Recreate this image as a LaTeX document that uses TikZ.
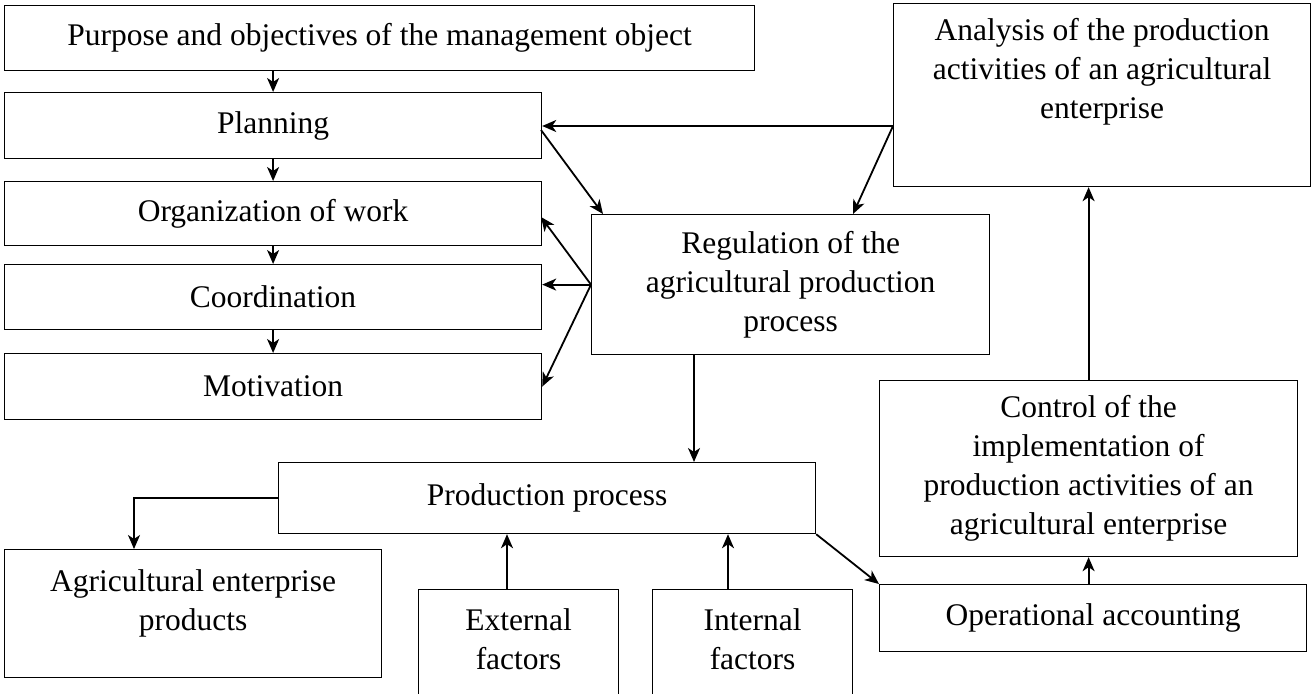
\documentclass[tikz,border=0pt]{standalone}
\usepackage{fontspec}
\setmainfont{Liberation Serif}
\usetikzlibrary{arrows.meta,calc}
\newcommand\bxfont{\fontsize{31.5}{39}\selectfont}
\newcommand\tstrut{\rule{0pt}{26pt}}
\tikzset{
  box/.style={draw, line width=1.2pt, rectangle, inner sep=0pt, anchor=north west, align=center, font=\bxfont},
  txt/.style={inner sep=0pt, anchor=north, align=center, font=\bxfont},
  arr/.style={line width=1.8pt, -{Stealth[length=14pt,width=12pt,inset=4pt]}},
}
\begin{document}
\begin{tikzpicture}[x=1pt,y=-1pt]
\useasboundingbox (0,0) rectangle (1311,693);
\clip (0,0) rectangle (1311,693);
% boxes
\node[box, minimum width=750pt, minimum height=65pt] (purpose) at (4,5) {Purpose and objectives of the management object};
\node[box, minimum width=537pt, minimum height=66pt] (planning) at (4,92) {Planning};
\node[box, minimum width=537pt, minimum height=64pt] (org) at (4,181) {Organization of work};
\node[box, minimum width=537pt, minimum height=65pt] (coord) at (4,264) {Coordination};
\node[box, minimum width=537pt, minimum height=66pt] (motiv) at (4,353) {Motivation};
\node[box, minimum width=398pt, minimum height=140pt] (regul) at (591,214) {Regulation of the\\agricultural production\\process};
\node[box, minimum width=417pt, minimum height=183pt] (analysis) at (893,3) {};
\node[txt] (analysis-t) at ($(analysis.north)+(0,11)$) {\tstrut Analysis of the production\\activities of an agricultural\\enterprise};
\node[box, minimum width=537pt, minimum height=71pt] (prod) at (278,462) {Production process};
\node[box, minimum width=377pt, minimum height=128pt] (agri) at (4,549) {};
\node[txt] (agri-t) at ($(agri.north)+(0,16)$) {\tstrut Agricultural enterprise\\products};
\node[box, minimum width=200pt, minimum height=130pt] (ext) at (418,589) {};
\node[txt] (ext-t) at ($(ext.north)+(0,15)$) {\tstrut External\\factors};
\node[box, minimum width=200pt, minimum height=130pt] (int) at (652,589) {};
\node[txt] (int-t) at ($(int.north)+(0,15)$) {\tstrut Internal\\factors};
\node[box, minimum width=427pt, minimum height=67pt] (op) at (879,584) {Operational accounting};
\node[box, minimum width=418pt, minimum height=176pt] (control) at (879,380) {Control of the\\implementation of\\production activities of an\\agricultural enterprise};
% connector end points
\coordinate (an) at (893,126);
\coordinate (rgA) at (853,214);
\coordinate (plR) at (541,130);
\coordinate (rgL) at (603,214);
\coordinate (orgR) at (541,217);
\coordinate (rgD) at (694,354);
\coordinate (agT) at (134,549);
\coordinate (extT) at (507,589);
\coordinate (intT) at (728,589);
% connectors
\draw[arr] (purpose.south -| planning.north) -- (planning.north);
\draw[arr] (planning.south) -- (org.north);
\draw[arr] (org.south) -- (coord.north);
\draw[arr] (coord.south) -- (motiv.north);
\draw[arr] (an) -- (an -| planning.east);
\draw[arr] (an) -- (rgA);
\draw[arr] (plR) -- (rgL);
\draw[arr] (regul.west) -- (orgR);
\draw[arr] (regul.west) -- (regul.west -| coord.east);
\draw[arr] (regul.west) -- (motiv.east);
\draw[arr] (rgD) -- (rgD |- prod.north);
\draw[arr] (prod.west) -| (agT);
\draw[arr] (extT) -- (extT |- prod.south);
\draw[arr] (intT) -- (intT |- prod.south);
\draw[arr] (prod.south east) -- (op.north west);
\draw[arr] (op.north -| control.south) -- (control.south);
\draw[arr] (control.north) -- (control.north |- analysis.south);
\end{tikzpicture}
\end{document}
